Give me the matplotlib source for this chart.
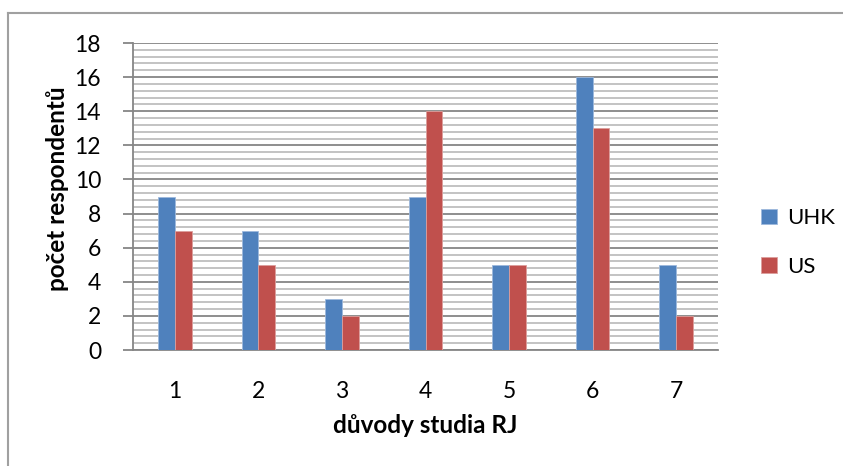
import numpy as np
import matplotlib.pyplot as plt
from matplotlib.ticker import MultipleLocator
from matplotlib.lines import Line2D

# reasons for studying (categories 1-7), respondent counts per school
categories = ['1', '2', '3', '4', '5', '6', '7']
uhk = [9, 7, 3, 9, 5, 16, 5]
us = [7, 5, 2, 14, 5, 13, 2]

plt.rcParams['font.family'] = ['Lato', 'DejaVu Sans']

fig = plt.figure(figsize=(8.43, 4.66), dpi=100)
ax = fig.add_axes([0.1578, 0.2489, 0.6939, 0.6588])

x = np.arange(1, len(categories) + 1)
w = 0.2
ax.bar(x - w / 2, uhk, w, color='#4F81BD', edgecolor='#9DB9DC', linewidth=0.6, label='UHK', zorder=3)
ax.bar(x + w / 2, us, w, color='#C0504D', edgecolor='#DC9E9C', linewidth=0.6, label='US', zorder=3)

ax.set_xlim(0.5, 7.5)
ax.set_ylim(0, 18)
ax.set_xticks(x)
ax.set_xticklabels(categories)
ax.yaxis.set_major_locator(MultipleLocator(2))
ax.yaxis.set_minor_locator(MultipleLocator(0.4))
ax.grid(axis='y', which='major', color='#868686', linewidth=1.3, zorder=0)
ax.grid(axis='y', which='minor', color='#BEBEBE', linewidth=1.3, zorder=0)

for side in ['top', 'right']:
    ax.spines[side].set_visible(False)
ax.spines['left'].set_color('#868686')
ax.spines['bottom'].set_color('#868686')
ax.spines['left'].set_linewidth(1.3)
ax.spines['bottom'].set_linewidth(1.3)
ax.tick_params(axis='y', which='major', length=7, width=1.3, color='#868686', labelsize=16.5, pad=16)
ax.tick_params(axis='y', which='minor', length=0)
ax.tick_params(axis='x', length=0, labelsize=16.5, pad=22)

ax.set_ylabel('počet respondentů', fontsize=17.5, fontweight='bold')
ax.set_xlabel('důvody studia RJ', fontsize=17.5, fontweight='bold')
ax.yaxis.set_label_coords(-0.11, 0.525)
ax.xaxis.set_label_coords(0.5, -0.21)

ax.legend(loc='center left', bbox_to_anchor=(1.04, 0.35), frameon=False, fontsize=16,
          handlelength=0.7, handleheight=0.7, handletextpad=0.45, labelspacing=1.3)

# chart frame (left and top edges)
fig.add_artist(Line2D([0.0095, 0.0095], [0.0, 0.972], color='#A0A0A0', linewidth=1.5))
fig.add_artist(Line2D([0.0095, 1.0], [0.972, 0.972], color='#A0A0A0', linewidth=1.5))

fig.savefig('out.png', dpi=100)
